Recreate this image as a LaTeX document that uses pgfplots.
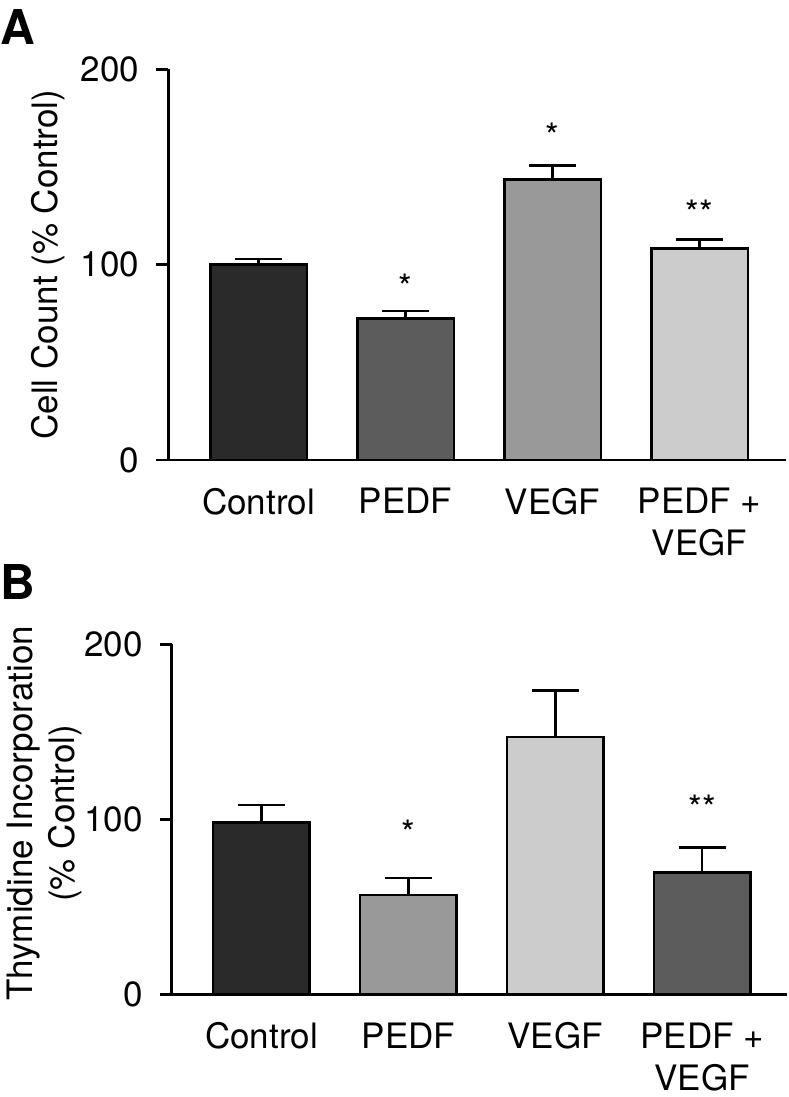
\documentclass[border=0pt]{standalone}
\usepackage{fontspec}
\setmainfont{TeX Gyre Heros}
\usepackage{pgfplots}
\pgfplotsset{compat=1.18}
\definecolor{c1}{RGB}{42,42,42}
\definecolor{c2}{RGB}{92,92,92}
\definecolor{c3}{RGB}{153,153,153}
\definecolor{c4}{RGB}{204,204,204}
\tikzset{sigstar/.style={font=\fontsize{35}{42}\selectfont, anchor=base, inner sep=0pt}}
\pgfplotsset{
  panel/.style={
    anchor=south west,
    axis x line*=bottom, axis y line*=left,
    axis line style={line width=2.5pt, black},
    ymin=0, ymax=200,
    ytick={0,100,200},
    xtick={0,1,2,3},
    xticklabels={Control, PEDF, VEGF, {PEDF +\\VEGF}},
    tick align=outside,
    major tick length=12pt,
    ytick style={line width=2.5pt, black},
    xtick style={draw=none},
    /pgf/number format/assume math mode=true,
    yticklabel style={font=\fontsize{35}{42}\selectfont, anchor=east, inner sep=0pt, xshift=-17pt},
    xticklabel style={font=\fontsize{35}{42}\selectfont, align=center, anchor=north, inner sep=0pt, yshift=-16pt},
    clip=false,
  },
  bars/.style={
    ybar, bar width=96.5pt, bar shift=0pt, draw=black, line width=2.5pt,
    /pgfplots/error bars/y dir=plus,
    /pgfplots/error bars/y explicit,
    /pgfplots/error bars/error mark=|,
    /pgfplots/error bars/error bar style={line width=2.5pt, black},
    /pgfplots/error bars/error mark options={line width=2.5pt, black, mark size=23.5pt},
  },
}
\begin{document}
\begin{tikzpicture}
\useasboundingbox (0pt,0pt) rectangle (788pt,-1097pt);
\node[anchor=base west, inner sep=0pt, font=\fontsize{48}{48}\selectfont\bfseries] at (0pt,-45pt) {A};
\node[anchor=base west, inner sep=0pt, font=\fontsize{48}{48}\selectfont\bfseries] at (0pt,-599.3pt) {B};

% Panel A
\begin{axis}[panel,
  at={(168.3pt,-460pt)},
  x=147pt, y=1.9535pt,
  xmin=-0.614, xmax=3.588,
  every axis y label/.style={at={(axis description cs:-0.1948,0.5)}, rotate=90, anchor=center, align=center, font=\fontsize{35}{42}\selectfont},
  ylabel={Cell Count (\% Control)},
]
\addplot[bars, fill=c1] coordinates {(0,100) +- (0,2.9)};
\addplot[bars, fill=c2] coordinates {(1,72.5) +- (0,3.7)};
\addplot[bars, fill=c3] coordinates {(2,143.6) +- (0,7.1)};
\addplot[bars, fill=c4] coordinates {(3,108.3) +- (0,4.6)};
\node[sigstar] at (axis cs:1,82.3) {*};
\node[sigstar] at (axis cs:2,159.5) {*};
\node[sigstar] at (axis cs:3,120.0) {**};
\end{axis}

% Panel B
\begin{axis}[panel,
  at={(171.7pt,-994.3pt)},
  x=146.9pt, y=1.75pt,
  xmin=-0.611, xmax=3.575,
  every axis y label/.style={at={(axis description cs:-0.2076,0.517)}, rotate=90, anchor=center, align=center, font=\fontsize{35}{42}\selectfont},
  ylabel={Thymidine Incorporation\\(\% Control)},
]
\addplot[bars, fill=c1] coordinates {(0,98.3) +- (0,9.9)};
\addplot[bars, fill=c3] coordinates {(1,56.7) +- (0,9.8)};
\addplot[bars, fill=c4] coordinates {(2,146.9) +- (0,26.8)};
\addplot[bars, fill=c2] coordinates {(3,69.7) +- (0,14.1)};
\node[sigstar] at (axis cs:1,85.3) {*};
\node[sigstar] at (axis cs:3,99.2) {**};
\end{axis}
\end{tikzpicture}
\end{document}
